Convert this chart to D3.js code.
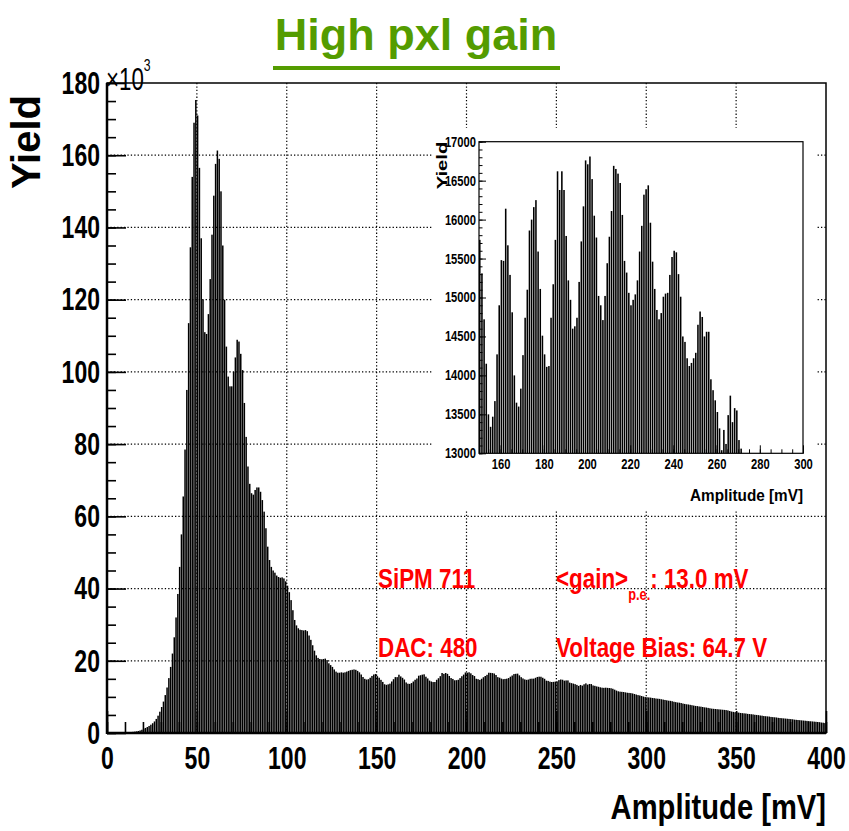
<!DOCTYPE html>
<html>
<head>
<meta charset="utf-8">
<script src="https://cdn.jsdelivr.net/npm/d3@7"></script>
<style>
  body { margin: 0; background: #fff; }
  svg { display: block; }
</style>
</head>
<body>
<div id="chart"></div>
<script>
// amplitude histogram, 1 mV bins from 0 to 400 mV
const binStart = 0;
const binWidth = 1;
const yieldCounts = [
  60, 80, 70, 90, 110, 100, 130, 150, 170, 200,
  200, 220, 250, 280, 320, 380, 460, 560, 700, 900,
  1200, 1400, 1650, 1950, 2300, 2700, 3200, 3900, 4800, 5900,
  7200, 8700, 10500, 12600, 15200, 18300, 22000, 26500, 32000, 38500,
  46000, 55000, 65500, 78500, 95000, 113500, 134500, 154000, 169000, 175300,
  171000, 156500, 137000, 120000, 111000, 110500, 116000, 125700, 138000, 148800,
  157600, 161300, 159000, 150000, 135000, 120000, 107000, 98700, 96000, 96000,
  100000, 104000, 108900, 108400, 105000, 100500, 91400, 82000, 73800, 69000,
  66400, 66000, 67300, 68000, 68000, 66800, 64500, 61300, 56700, 51600,
  47900, 46000, 45000, 44400, 43600, 43200, 43000, 43100, 42800, 42000,
  40800, 39000, 36800, 34000, 31300, 29800, 29000, 28600, 28500, 28400,
  28500, 28200, 27000, 25800, 24300, 22800, 21500, 20800, 20500, 20400,
  20500, 20600, 20200, 19300, 18800, 18300, 17600, 17000, 16700, 16700,
  16800, 16700, 16800, 17000, 17200, 17400, 17500, 17600, 17500, 17200,
  16800, 16200, 15500, 15000, 14800, 14900, 15300, 15800, 16200, 16350,
  15740, 15310, 14720, 14150, 13500, 13340, 13470, 13670, 14270, 14900,
  15480, 15470, 16140, 15670, 15290, 14810, 14000, 13650, 13600, 13830,
  14260, 14740, 15100, 15860, 16000, 16160, 16250, 15590, 15110, 14510,
  14270, 14110, 14120, 14740, 15170, 15740, 16620, 16380, 16620, 16380,
  15790, 15220, 14970, 14600, 14630, 14740, 15200, 15720, 16170, 16760,
  16710, 16810, 16520, 16050, 15770, 15020, 14900, 14710, 15020, 15440,
  15780, 16110, 16690, 16650, 16590, 16470, 16060, 15470, 15320, 15060,
  14900, 14970, 15040, 15220, 15590, 15920, 16320, 16390, 16440, 15960,
  15460, 15110, 14840, 14720, 14800, 15010, 15050, 15060, 15290, 15520,
  15600, 15580, 15300, 15010, 14500, 14430, 14220, 14120, 14160, 14220,
  14290, 14650, 14820, 14750, 14500, 14560, 14560, 13950, 13810, 13680,
  13530, 13320, 13040, 13300, 13120, 13490, 13740, 13400, 13580, 13550,
  13170, 13060, 12900, 12800, 12650, 12550, 12500, 12550, 12500, 12450,
  12400, 12250, 12000, 11750, 11550, 11450, 11400, 11350, 11250, 11150,
  11100, 11050, 10950, 10800, 10650, 10500, 10400, 10250, 10100, 9950,
  9900, 9850, 9800, 9700, 9650, 9550, 9500, 9450, 9350, 9250,
  9150, 9050, 8950, 8900, 8800, 8650, 8550, 8450, 8400, 8300,
  8150, 8050, 7950, 7900, 7800, 7700, 7600, 7500, 7450, 7350,
  7300, 7200, 7100, 7050, 6950, 6850, 6750, 6700, 6650, 6600,
  6550, 6500, 6450, 6400, 6350, 6250, 6100, 5950, 5850, 5750,
  5700, 5650, 5550, 5500, 5450, 5400, 5300, 5250, 5200, 5150,
  5050, 5000, 4950, 4850, 4800, 4700, 4650, 4600, 4550, 4450,
  4400, 4350, 4300, 4200, 4150, 4100, 4050, 4000, 3950, 3900,
  3850, 3800, 3700, 3650, 3600, 3550, 3500, 3450, 3400, 3350,
  3300, 3250, 3200, 3150, 3100, 3050, 3000, 2900, 2850, 2750
];

const mainXTicks = [0, 50, 100, 150, 200, 250, 300, 350, 400];
const mainYTicks = [0, 20000, 40000, 60000, 80000, 100000, 120000, 140000, 160000, 180000];
const insetXTicks = [160, 180, 200, 220, 240, 260, 280, 300];
const insetYTicks = [13000, 13500, 14000, 14500, 15000, 15500, 16000, 16500, 17000];

const titleText = "High pxl gain";
const sipmLabel = "SiPM 711";
const dacLabel = "DAC: 480";
const gainValue = ": 13.0 mV";
const biasLabel = "Voltage Bias: 64.7 V";

const width = 849;
const height = 831;
const font = "'Liberation Sans', Arial, sans-serif";

const svg = d3.select("#chart")
    .append("svg")
    .attr("width", width)
    .attr("height", height)
    .attr("font-family", font)
    .attr("font-weight", "bold");

// narrow the glyphs horizontally, keeping the anchor point
function squeeze(sel, s) {
    sel.each(function() {
        const t = d3.select(this);
        const x0 = +t.attr("x") || 0;
        t.attr("x", x0 / s).attr("transform", `scale(${s},1)`);
    });
}

// free text placed with its own scale
function label(parent, px, py, s, size) {
    return parent.append("text")
        .attr("transform", `translate(${px},${py}) scale(${s},1)`)
        .attr("font-size", size);
}

// ---- main pad ----
const frame = {left: 107, right: 826, top: 83, bottom: 733};

const x = d3.scaleLinear()
    .domain([0, 400])
    .range([frame.left, frame.right]);
const y = d3.scaleLinear()
    .domain([0, 180000])
    .range([frame.bottom, frame.top]);

const grid = svg.append("g").attr("class", "grid")
    .attr("stroke", "#000")
    .attr("stroke-width", 1.2)
    .attr("stroke-dasharray", "1.3,2.1");
grid.selectAll(".gy")
    .data(mainYTicks.slice(1, -1))
    .enter()
    .append("line")
    .attr("x1", frame.left).attr("x2", frame.right)
    .attr("y1", d => y(d)).attr("y2", d => y(d));
grid.selectAll(".gx")
    .data(mainXTicks.slice(1, -1))
    .enter()
    .append("line")
    .attr("y1", frame.top).attr("y2", frame.bottom)
    .attr("x1", d => x(d)).attr("x2", d => x(d));

svg.append("g").attr("class", "bars")
    .selectAll("rect")
    .data(yieldCounts)
    .enter()
    .append("rect")
    .attr("x", (d, i) => x(binStart + i * binWidth))
    .attr("width", (d, i) => x(binStart + (i + 1) * binWidth) - x(binStart + i * binWidth) - 0.3)
    .attr("y", d => y(d))
    .attr("height", d => y(0) - y(d))
    .attr("fill", "#000");

// minor ticks
svg.append("g")
    .attr("transform", `translate(${frame.left},0)`)
    .call(d3.axisLeft(y).tickValues(d3.range(0, 180001, 5000)).tickSize(-9).tickFormat(""))
    .call(g => g.select(".domain").remove())
    .selectAll("line").attr("stroke-width", 1.6);
svg.append("g")
    .attr("transform", `translate(0,${frame.bottom})`)
    .call(d3.axisBottom(x).tickValues(d3.range(0, 401, 10)).tickSize(-11).tickFormat(""))
    .call(g => g.select(".domain").remove())
    .selectAll("line").attr("stroke-width", 1.6);

const yAxis = svg.append("g")
    .attr("transform", `translate(${frame.left},0)`)
    .call(d3.axisLeft(y).tickValues(mainYTicks).tickSize(-19).tickSizeOuter(0)
        .tickPadding(7).tickFormat(d => d / 1000));
yAxis.select(".domain").remove();
yAxis.selectAll("line").attr("stroke-width", 1.6);
yAxis.selectAll("text")
    .attr("font-family", font).attr("font-weight", "bold").attr("font-size", 32).attr("fill", "#000")
    .call(squeeze, 0.72);

const xAxis = svg.append("g")
    .attr("transform", `translate(0,${frame.bottom})`)
    .call(d3.axisBottom(x).tickValues(mainXTicks).tickSize(-22).tickSizeOuter(0)
        .tickPadding(13));
xAxis.select(".domain").remove();
xAxis.selectAll("line").attr("stroke-width", 1.6);
xAxis.selectAll("text")
    .attr("font-family", font).attr("font-weight", "bold").attr("font-size", 32).attr("fill", "#000")
    .call(squeeze, 0.72);

svg.append("rect")
    .attr("x", frame.left).attr("y", frame.top)
    .attr("width", frame.right - frame.left).attr("height", frame.bottom - frame.top)
    .attr("fill", "none").attr("stroke", "#000").attr("stroke-width", 1.5);
svg.append("line")
    .attr("x1", frame.left).attr("x2", frame.left)
    .attr("y1", frame.top).attr("y2", frame.bottom + 1)
    .attr("stroke", "#000").attr("stroke-width", 2.5);
svg.append("line")
    .attr("x1", frame.left).attr("x2", frame.right)
    .attr("y1", frame.bottom).attr("y2", frame.bottom)
    .attr("stroke", "#000").attr("stroke-width", 2.5);

// exponent
const expo = label(svg, frame.left - 1, 90, 0.72, 31).attr("font-weight", "normal");
expo.append("tspan").text("\u00d710");
expo.append("tspan").attr("dy", -19).attr("font-size", 17).text("3");

svg.append("text")
    .attr("transform", "translate(40,95) rotate(-90)")
    .attr("text-anchor", "end")
    .attr("font-size", 40)
    .text("Yield");

label(svg, frame.right, 819, 0.81, 36)
    .attr("text-anchor", "end")
    .text("Amplitude [mV]");

// title
svg.append("text")
    .attr("x", 416).attr("y", 50)
    .attr("text-anchor", "middle")
    .attr("font-size", 45)
    .attr("fill", "#549c00")
    .text(titleText);
svg.append("rect")
    .attr("x", 273).attr("y", 66).attr("width", 287).attr("height", 4)
    .attr("fill", "#549c00");

// red info text
const info = svg.append("g").attr("fill", "#ff0000");
label(info, 378, 588, 0.8, 28).text(sipmLabel);
label(info, 378, 657, 0.8, 28).text(dacLabel);
label(info, 556, 657, 0.8, 28).text(biasLabel);
const gainText = label(info, 556, 588, 0.8, 28);
gainText.append("tspan").text("<gain>");
gainText.append("tspan").attr("dy", 12).attr("font-size", 16).text("p.e.");
gainText.append("tspan").attr("dy", -12).text(gainValue);

// ---- inset pad ----
const inset = {left: 479, right: 803, top: 141.7, bottom: 453.3};
svg.append("rect")
    .attr("x", 432).attr("y", 128).attr("width", 384).attr("height", 382)
    .attr("fill", "#fff");

const xi = d3.scaleLinear().domain([150, 300]).range([inset.left, inset.right]);
const yi = d3.scaleLinear().domain([13000, 17000]).range([inset.bottom, inset.top]);

const insetBins = yieldCounts
    .map((v, i) => ({lo: binStart + i * binWidth, v: v}))
    .filter(d => d.lo >= 150 && d.lo < 300 && d.v > 13000);

svg.append("g").attr("class", "inset-bars")
    .selectAll("rect")
    .data(insetBins)
    .enter()
    .append("rect")
    .attr("x", d => xi(d.lo))
    .attr("width", d => xi(d.lo + binWidth) - xi(d.lo) - 0.6)
    .attr("y", d => yi(Math.min(d.v, 17000)))
    .attr("height", d => yi(13000) - yi(Math.min(d.v, 17000)))
    .attr("fill", "#000");

svg.append("g")
    .attr("transform", `translate(${inset.left},0)`)
    .call(d3.axisLeft(yi).tickValues(d3.range(13000, 17001, 100)).tickSize(-3.5).tickFormat(""))
    .call(g => g.select(".domain").remove());
svg.append("g")
    .attr("transform", `translate(0,${inset.bottom})`)
    .call(d3.axisBottom(xi).tickValues(d3.range(150, 301, 5)).tickSize(-4).tickFormat(""))
    .call(g => g.select(".domain").remove());

const yiAxis = svg.append("g")
    .attr("transform", `translate(${inset.left},0)`)
    .call(d3.axisLeft(yi).tickValues(insetYTicks).tickSize(-7).tickSizeOuter(0)
        .tickPadding(3).tickFormat(d3.format("d")));
yiAxis.select(".domain").remove();
yiAxis.selectAll("text")
    .attr("font-family", font).attr("font-weight", "bold").attr("font-size", 14).attr("fill", "#000")
    .call(squeeze, 0.8);

const xiAxis = svg.append("g")
    .attr("transform", `translate(0,${inset.bottom})`)
    .call(d3.axisBottom(xi).tickValues(insetXTicks).tickSize(-8).tickSizeOuter(0).tickPadding(6));
xiAxis.select(".domain").remove();
xiAxis.selectAll("text")
    .attr("font-family", font).attr("font-weight", "bold").attr("font-size", 14).attr("fill", "#000")
    .call(squeeze, 0.8);

svg.append("rect")
    .attr("x", inset.left).attr("y", inset.top)
    .attr("width", inset.right - inset.left).attr("height", inset.bottom - inset.top)
    .attr("fill", "none").attr("stroke", "#000").attr("stroke-width", 1.2);

svg.append("text")
    .attr("transform", `translate(447,${inset.top}) rotate(-90) scale(1.35,1)`)
    .attr("text-anchor", "end")
    .attr("font-size", 15)
    .text("Yield");

label(svg, inset.right, 501, 0.9, 17)
    .attr("text-anchor", "end")
    .text("Amplitude [mV]");
</script>
</body>
</html>
